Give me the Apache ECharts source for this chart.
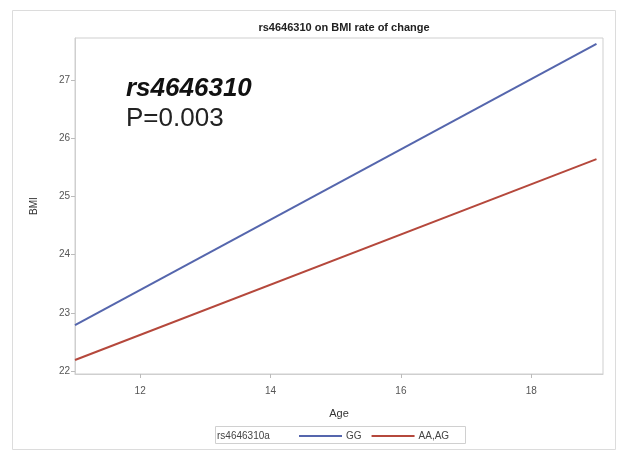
<!DOCTYPE html>
<html>
<head>
<meta charset="utf-8">
<script src="https://cdn.jsdelivr.net/npm/echarts@6/dist/echarts.min.js"></script>
<style>
html,body{margin:0;padding:0;background:#fff;}
#chart{width:621px;height:451px;}
</style>
</head>
<body>
<div id="chart"></div>
<script>
var seriesNames = ['GG', 'AA,AG'];
var ages = [11, 19];
var bmiGG = [22.79, 27.62];
var bmiAAAG = [22.19, 25.64];
var yTicks = [22, 23, 24, 25, 26, 27];
var xTicks = [12, 14, 16, 18];

var FONT = 'Arial, "Liberation Sans", sans-serif';
var chart = echarts.init(document.getElementById('chart'));

function pairs(xs, ys) { return xs.map(function (x, i) { return [x, ys[i]]; }); }

chart.setOption({
  animation: false,
  backgroundColor: '#fff',
  title: {
    text: 'rs4646310 on BMI rate of change',
    left: 339, top: 17, textAlign: 'center',
    textStyle: { fontFamily: FONT, fontSize: 11, fontWeight: 'bold', color: '#222' }
  },
  grid: { left: 75, right: 18, top: 38, bottom: 77, show: true, borderColor: '#cfcfcf', borderWidth: 1 },
  xAxis: {
    type: 'value', min: 11, max: 19.1, interval: 1,
    name: 'Age', nameLocation: 'middle', nameGap: 34,
    nameTextStyle: { fontFamily: FONT, fontSize: 11, color: '#333' },
    axisLine: { show: true, lineStyle: { color: '#cfcfcf' } },
    axisTick: { show: true, length: 4, lineStyle: { color: '#bbb' },
      customValues: xTicks },
    axisLabel: { fontFamily: FONT, fontSize: 10, color: '#555', margin: 12,
      customValues: xTicks },
    splitLine: { show: false }
  },
  yAxis: {
    type: 'value', min: 21.95, max: 27.72,
    name: 'BMI', nameLocation: 'middle', nameGap: 36, nameRotate: 90,
    nameTextStyle: { fontFamily: FONT, fontSize: 10, color: '#333' },
    axisLine: { show: true, lineStyle: { color: '#cfcfcf' } },
    axisTick: { show: true, length: 4, lineStyle: { color: '#bbb' }, customValues: yTicks },
    axisLabel: { fontFamily: FONT, fontSize: 10, color: '#555', margin: 5, customValues: yTicks },
    splitLine: { show: false }
  },
  legend: {
    data: seriesNames,
    left: 294, top: 426,
    icon: 'rect', itemWidth: 43, itemHeight: 2, itemGap: 10,
    textStyle: { fontFamily: FONT, fontSize: 10, color: '#444', padding: [0, 0, 0, -1] }
  },
  graphic: [
    { type: 'rect', left: 10, top: 8, shape: { width: 603, height: 439 },
      style: { fill: 'none', stroke: '#dcdcdc', lineWidth: 1 }, silent: true },
    { type: 'rect', left: 213, top: 424, shape: { width: 250, height: 17 },
      style: { fill: 'none', stroke: '#d0d0d0', lineWidth: 1 }, silent: true },
    { type: 'text', left: 217, top: 431,
      style: { text: 'rs4646310a', font: '10px ' + FONT, fill: '#444' } },
    { type: 'text', left: 126, top: 76,
      style: { text: 'rs4646310', font: 'italic bold 26px ' + FONT, fill: '#111' } },
    { type: 'text', left: 126, top: 106,
      style: { text: 'P=0.003', font: '26px ' + FONT, fill: '#222' } }
  ],
  series: [
    { name: seriesNames[0], type: 'line', data: pairs(ages, bmiGG), symbol: 'none',
      lineStyle: { color: '#5566ad', width: 2 }, itemStyle: { color: '#5566ad' } },
    { name: seriesNames[1], type: 'line', data: pairs(ages, bmiAAAG), symbol: 'none',
      lineStyle: { color: '#b5483c', width: 2 }, itemStyle: { color: '#b5483c' } }
  ]
});
</script>
</body>
</html>
